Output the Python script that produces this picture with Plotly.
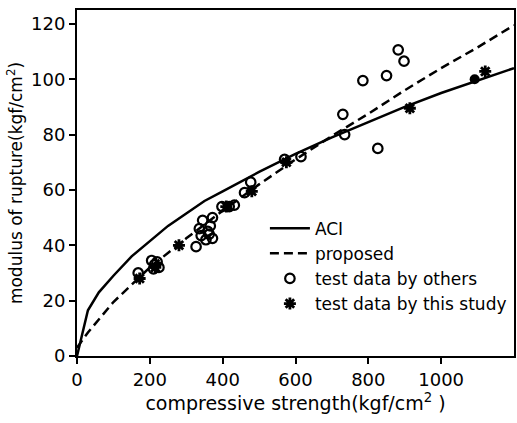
import plotly.graph_objects as go

# ACI modulus of rupture vs compressive strength (kgf/cm2)
aci_x = [0, 30, 60, 100, 150, 200, 250, 300, 350, 400, 500, 600, 700, 800, 900,
         1000, 1100, 1200]
aci_y = [0, 16.5, 23, 29, 36, 41.5, 47, 51.5, 56, 59.5, 66.5, 73, 79, 84.5, 90,
         95, 99.5, 104]

# proposed equation
prop_x = [0, 30, 100, 200, 300, 400, 500, 600, 700, 800, 900, 1000, 1100, 1200]
prop_y = [3, 8.5, 19.5, 32, 42.5, 52.5, 62, 71, 79.5, 87.5, 96, 104, 111.5, 119.5]

# test data by others
others_x = [168, 205, 213, 220, 210, 225, 327, 336, 341, 345, 354, 359, 363, 366,
            372, 372, 398, 418, 432, 460, 477, 570, 615, 730, 735, 785, 826, 850,
            882, 898]
others_y = [30, 34.5, 33, 34, 31.5, 32, 39.5, 46, 43.5, 49, 42, 45, 44, 47,
            50, 42.5, 54, 54, 54.5, 59, 62.8, 71, 72, 87.3, 80, 99.5, 75, 101.3,
            110.6, 106.5]

# test data by this study
study_x = [172, 215, 280, 410, 480, 575, 914, 1121]
study_y = [28, 32, 40, 54, 59.5, 70, 89.5, 102.8]

# solid point on the ACI curve
solid_x = [1092]
solid_y = [100]

FONT = "DejaVu Sans"
INK = "black"

fig = go.Figure()
fig.add_trace(go.Scatter(x=aci_x, y=aci_y, mode="lines", name="ACI",
                         line=dict(color=INK, width=2.5)))
fig.add_trace(go.Scatter(x=prop_x, y=prop_y, mode="lines", name="proposed",
                         line=dict(color=INK, width=2.5, dash="9px,5px")))
fig.add_trace(go.Scatter(x=others_x, y=others_y, mode="markers",
                         name="test data by others",
                         marker=dict(symbol="circle-open", size=9.5, color=INK,
                                     line=dict(width=2.2, color=INK))))
fig.add_trace(go.Scatter(x=study_x, y=study_y, mode="markers",
                         name="test data by this study",
                         marker=dict(symbol="asterisk-open", size=10, color=INK,
                                     line=dict(width=2.8, color=INK))))
fig.add_trace(go.Scatter(x=solid_x, y=solid_y, mode="markers", showlegend=False,
                         marker=dict(symbol="circle", size=10, color=INK)))

axis_common = dict(showgrid=False, zeroline=False, showline=True, linecolor=INK,
                   linewidth=2, mirror=True, ticks="outside", tickwidth=2,
                   tickcolor=INK, tickfont=dict(family=FONT, size=18, color=INK))

fig.update_xaxes(range=[0, 1200], tickvals=[0, 200, 400, 600, 800, 1000], ticklen=6,
                 title=dict(text="compressive strength(kgf/cm<sup>2</sup> )",
                            font=dict(family=FONT, size=19, color=INK), standoff=4),
                 **axis_common)
fig.update_yaxes(range=[0, 125], tickvals=[0, 20, 40, 60, 80, 100, 120], ticklen=6,
                 title=dict(text="modulus of rupture(kgf/cm<sup>2</sup>)",
                            font=dict(family=FONT, size=17, color=INK), standoff=4),
                 **axis_common)

fig.update_layout(
    width=517, height=423,
    margin=dict(l=77, r=1, t=10, b=67),
    paper_bgcolor="white", plot_bgcolor="white",
    legend=dict(x=0.43, y=0.42, xanchor="left", yanchor="top",
                bgcolor="rgba(0,0,0,0)", font=dict(family=FONT, size=17, color=INK),
                itemwidth=40),
)

fig.write_html("out.html")
